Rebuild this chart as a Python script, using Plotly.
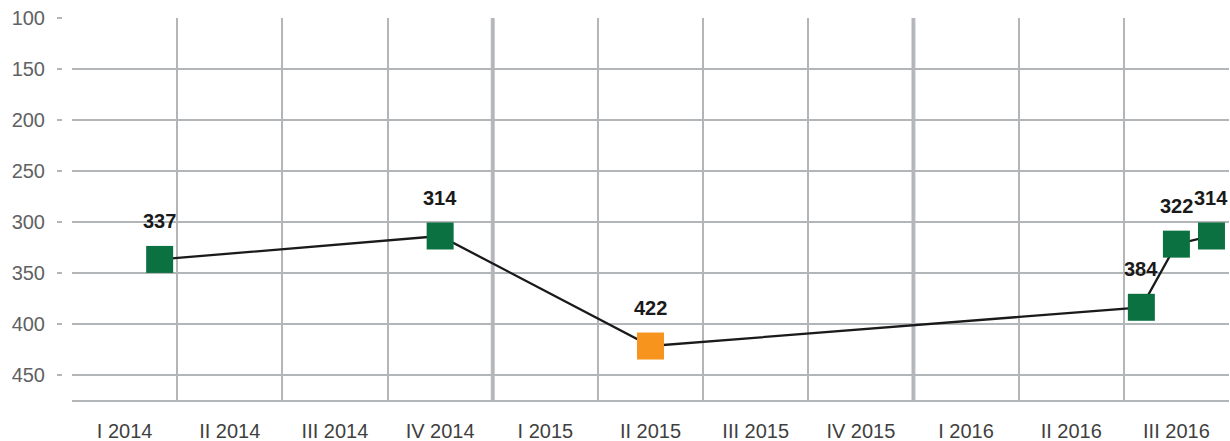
import plotly.graph_objects as go

# ---- data ----
quarter_labels = ["I 2014", "II 2014", "III 2014", "IV 2014", "I 2015", "II 2015",
                  "III 2015", "IV 2015", "I 2016", "II 2016", "III 2016"]
months = ["2014-03", "2014-11", "2015-05", "2016-07", "2016-08", "2016-09"]
values = [337, 314, 422, 384, 322, 314]
point_colors = ["#0b7141", "#0b7141", "#f7941d", "#0b7141", "#0b7141", "#0b7141"]
y_ticks = [100, 150, 200, 250, 300, 350, 400, 450]
year_boundaries = [4, 8]  # quarter index where a new year starts

# month -> position on quarter scale (each quarter = 1 unit, month centred)
def month_pos(s):
    y, m = s.split("-")
    idx = (int(y) - 2014) * 12 + (int(m) - 1)
    return (idx + 0.5) / 3.0

xs = [month_pos(m) for m in months]

FONT = "Liberation Sans, Arial, sans-serif"
GRID = "#b3b6b8"

fig = go.Figure()
fig.add_trace(go.Scatter(
    x=xs, y=values, mode="lines+markers",
    line=dict(color="#1a1a1a", width=2.3),
    marker=dict(symbol="square", size=27, color=point_colors, line=dict(width=0)),
    hoverinfo="skip", showlegend=False,
))

for x, v in zip(xs, values):
    fig.add_annotation(x=x, y=v, text=str(v), showarrow=False, yshift=38,
                       font=dict(family=FONT, size=20, color="#1a1a1a", weight="bold"))

for b in year_boundaries:
    fig.add_shape(type="line", xref="x", yref="y domain", x0=b, x1=b, y0=0, y1=1,
                  line=dict(color="#b9bcbe", width=4), layer="below")

W, H = 1230, 441
L, R, T, B = 62, 1, 18, 41
pw = W - L - R

fig.update_layout(
    width=W, height=H,
    margin=dict(l=L, r=R, t=T, b=B, autoexpand=False),
    paper_bgcolor="white", plot_bgcolor="white",
    font=dict(family=FONT),
    xaxis=dict(
        domain=[10 / pw, 1], range=[0, 11],
        tickvals=[i + 0.5 for i in range(len(quarter_labels))],
        ticktext=quarter_labels, ticks="", showgrid=False,
        minor=dict(tickvals=list(range(len(quarter_labels) + 1)), showgrid=True,
                   gridcolor=GRID, gridwidth=2, ticks=""),
        showline=True, linecolor=GRID, linewidth=2,
        tickfont=dict(size=20, color="#3f3f3f"),
        ticklabelstandoff=12, zeroline=False, automargin=False,
    ),
    yaxis=dict(
        anchor="free", position=0, range=[475, 100],
        tickvals=y_ticks, showgrid=True, gridcolor=GRID, gridwidth=2,
        ticks="outside", ticklen=5, tickwidth=2, tickcolor=GRID,
        showline=False, zeroline=False,
        tickfont=dict(size=20, color="#5f6163"),
        ticklabelstandoff=8, automargin=False,
    ),
)

fig.write_html("out.html", config={"displayModeBar": False},
               post_script="document.body.style.margin='0';document.body.style.overflow='hidden';")
